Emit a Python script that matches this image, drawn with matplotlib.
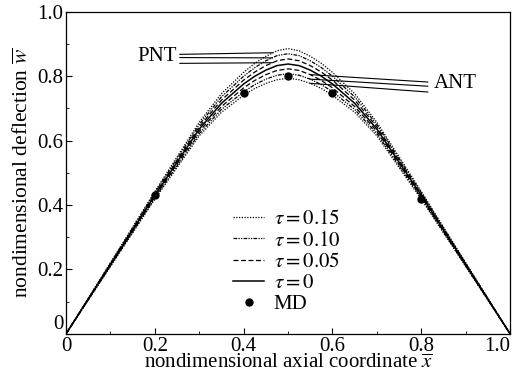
import matplotlib.pyplot as plt
import numpy as np

plt.rcParams['font.family'] = ['Liberation Serif', 'DejaVu Serif']
plt.rcParams['mathtext.fontset'] = 'stix'

# axial coordinate where the curves are sampled
x = [0, 0.1, 0.2, 0.3, 0.35, 0.4, 0.425, 0.45, 0.475, 0.5,
     0.525, 0.55, 0.575, 0.6, 0.65, 0.7, 0.8, 0.9, 1.0]

# PNT curves (above tau=0)
w_p15 = [0, 0.221, 0.442, 0.657, 0.746, 0.812, 0.840, 0.862, 0.879, 0.886,
         0.879, 0.862, 0.840, 0.812, 0.746, 0.657, 0.442, 0.221, 0]
w_p10 = [0, 0.219, 0.438, 0.650, 0.736, 0.800, 0.827, 0.848, 0.864, 0.870,
         0.864, 0.848, 0.827, 0.800, 0.736, 0.650, 0.438, 0.219, 0]
w_p05 = [0, 0.217, 0.434, 0.643, 0.726, 0.788, 0.813, 0.833, 0.848, 0.854,
         0.848, 0.833, 0.813, 0.788, 0.726, 0.643, 0.434, 0.217, 0]
w_0 = [0, 0.215, 0.430, 0.636, 0.716, 0.776, 0.800, 0.819, 0.833, 0.838,
       0.833, 0.819, 0.800, 0.776, 0.716, 0.636, 0.430, 0.215, 0]
# ANT curves (below tau=0)
w_a05 = [0, 0.213, 0.426, 0.629, 0.706, 0.764, 0.787, 0.805, 0.818, 0.823,
         0.818, 0.805, 0.787, 0.764, 0.706, 0.629, 0.426, 0.213, 0]
w_a10 = [0, 0.211, 0.422, 0.622, 0.697, 0.752, 0.774, 0.791, 0.803, 0.808,
         0.803, 0.791, 0.774, 0.752, 0.697, 0.622, 0.422, 0.211, 0]
w_a15 = [0, 0.209, 0.418, 0.615, 0.688, 0.741, 0.762, 0.778, 0.789, 0.794,
         0.789, 0.778, 0.762, 0.741, 0.688, 0.615, 0.418, 0.209, 0]

# MD results
x_md = [0.2, 0.4, 0.5, 0.6, 0.8]
w_md = [0.43, 0.748, 0.80, 0.748, 0.42]

fig = plt.figure(figsize=(5.17, 3.82), dpi=100)
ax = fig.add_axes([0.1277, 0.126, 0.859, 0.843])

lw = 0.9
dot = (0, (1, 1.2))
dashdot = (0, (3, 1, 1, 1, 1, 1))
dash = (0, (4, 2))

ax.plot(x, w_p15, color='k', lw=lw, linestyle=dot, label=r'$\tau=0.15$')
ax.plot(x, w_p10, color='k', lw=lw, linestyle=dashdot, label=r'$\tau=0.10$')
ax.plot(x, w_p05, color='k', lw=lw, linestyle=dash, label=r'$\tau=0.05$')
ax.plot(x, w_0, color='k', lw=1.1, linestyle='-', label=r'$\tau=0$')
ax.plot(x, w_a05, color='k', lw=lw, linestyle=dash)
ax.plot(x, w_a10, color='k', lw=lw, linestyle=dashdot)
ax.plot(x, w_a15, color='k', lw=lw, linestyle=dot)
ax.plot(x_md, w_md, 'o', color='k', markersize=5, label='MD')

# leader lines
ax.text(0.205, 0.86, 'PNT', fontsize=15, ha='center', va='center')
for y0, xi, yi in [(0.868, 0.465, 0.873), (0.858, 0.465, 0.857), (0.840, 0.465, 0.842)]:
    ax.annotate('', xy=(xi, yi), xytext=(0.256, y0),
                arrowprops=dict(arrowstyle='-', color='k', lw=0.8,
                                shrinkA=0, shrinkB=0))
ax.text(0.876, 0.776, 'ANT', fontsize=15, ha='center', va='center')
for y0, xi, yi in [(0.782, 0.55, 0.805), (0.769, 0.55, 0.791), (0.751, 0.55, 0.778)]:
    ax.annotate('', xy=(xi, yi), xytext=(0.815, y0),
                arrowprops=dict(arrowstyle='-', color='k', lw=0.8,
                                shrinkA=0, shrinkB=0))

ax.set_xlim(0, 1.0)
ax.set_ylim(0, 1.0)
ax.set_xticks([0, 0.2, 0.4, 0.6, 0.8, 1.0])
ax.set_xticklabels(['0', '0.2', '0.4', '0.6', '0.8', '1.0'])
ax.set_yticks([0, 0.2, 0.4, 0.6, 0.8, 1.0])
ax.set_yticklabels(['0', '0.2', '0.4', '0.6', '0.8', '1.0'])
ax.get_yticklabels()[0].set_verticalalignment('bottom')
ax.get_xticklabels()[-1].set_horizontalalignment('right')
ax.set_xticks(np.arange(0.1, 1.0, 0.2), minor=True)
ax.set_yticks(np.arange(0.1, 1.0, 0.2), minor=True)
ax.tick_params(which='both', direction='in', labelsize=15, pad=2)
ax.tick_params(which='major', length=4)
ax.tick_params(which='minor', length=2.5)
for s in ax.spines.values():
    s.set_linewidth(0.9)

ax.set_xlabel(r'nondimensional axial coordinate $\overline{x}$', fontsize=15, labelpad=-1)
ax.set_ylabel(r'nondimensional deflection $\overline{w}$', fontsize=15.5, labelpad=3)

ax.legend(loc='upper left', bbox_to_anchor=(0.376, 0.385), frameon=False, fontsize=15,
          handlelength=1.5, handletextpad=0.45, labelspacing=0.08, borderpad=0,
          borderaxespad=0)

fig.savefig('out.png', dpi=100)
